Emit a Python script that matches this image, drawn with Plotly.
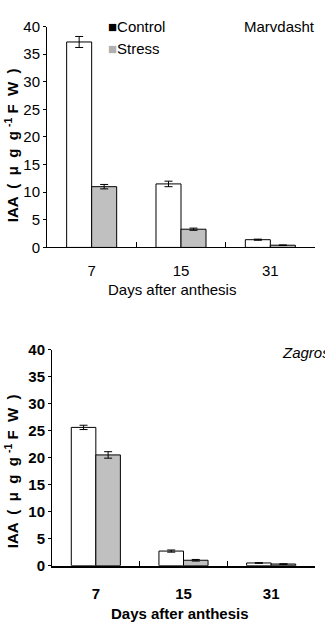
import plotly.graph_objects as go

days = ["7", "15", "31"]
# Marvdasht
marv_control = [37.2, 11.5, 1.4]
marv_control_err = [1.0, 0.5, 0.1]
marv_stress = [11.0, 3.3, 0.4]
marv_stress_err = [0.4, 0.2, 0.05]
# Zagros
zag_control = [25.6, 2.7, 0.5]
zag_control_err = [0.4, 0.2, 0.05]
zag_stress = [20.5, 1.0, 0.3]
zag_stress_err = [0.6, 0.15, 0.05]

y_ticks = [0, 5, 10, 15, 20, 25, 30, 35, 40]

W, H = 325, 634
FONT = "Liberation Sans, Arial, sans-serif"

def px_x(p):
    return p / W

def px_y(p):
    return 1 - p / H

fig = go.Figure()

def add_bars(xa, ya, ctrl, ctrl_err, strs, strs_err):
    fig.add_trace(go.Bar(
        x=days, y=ctrl, name="Control", xaxis=xa, yaxis=ya,
        marker=dict(color="white", line=dict(color="black", width=1)),
        error_y=dict(type="data", array=ctrl_err, color="black", thickness=1, width=4),
        showlegend=False))
    fig.add_trace(go.Bar(
        x=days, y=strs, name="Stress", xaxis=xa, yaxis=ya,
        marker=dict(color="#c0c0c0", line=dict(color="black", width=1)),
        error_y=dict(type="data", array=strs_err, color="black", thickness=1, width=4),
        showlegend=False))

add_bars("x", "y", marv_control, marv_control_err, marv_stress, marv_stress_err)
add_bars("x2", "y2", zag_control, zag_control_err, zag_stress, zag_stress_err)

def xaxis_cfg(dom, anchor, bold=False, standoff=10, lw=1):
    return dict(domain=dom, anchor=anchor, type="category",
                showline=True, linecolor="black", linewidth=lw,
                ticks="inside", tickson="boundaries", ticklen=5, tickcolor="black",
                showgrid=False, ticklabelstandoff=standoff,
                tickfont=dict(family=FONT, size=15, color="black",
                              weight="bold" if bold else "normal"))

def yaxis_cfg(dom, anchor, bold=False):
    return dict(domain=dom, anchor=anchor, range=[0, 40], tickvals=y_ticks,
                showline=True, linecolor="black", linewidth=1,
                ticks="outside", ticklen=3, tickcolor="black",
                showgrid=False, zeroline=False,
                tickfont=dict(family=FONT, size=15, color="black",
                              weight="bold" if bold else "normal"))

fig.update_layout(
    width=W, height=H,
    margin=dict(l=0, r=0, t=0, b=0),
    paper_bgcolor="white", plot_bgcolor="white",
    barmode="group", bargap=0.44, bargroupgap=0,
    xaxis=xaxis_cfg([px_x(47), px_x(315)], "y", standoff=10),
    yaxis=yaxis_cfg([px_y(245), px_y(18)], "x"),
    xaxis2=xaxis_cfg([px_x(52), px_x(315)], "y2", bold=True, standoff=13, lw=2),
    yaxis2=yaxis_cfg([px_y(572), px_y(350)], "x2", bold=True),
    font=dict(family=FONT, size=15, color="black"),
)

ann = []
def a(text, x, y, xanchor="center", yanchor="middle", size=15, angle=0, bold=False, italic=False):
    ann.append(dict(text=text, x=px_x(x), y=px_y(y), xref="paper", yref="paper",
                    xanchor=xanchor, yanchor=yanchor, showarrow=False, textangle=angle,
                    font=dict(family=FONT, size=size, color="black",
                              weight="bold" if bold else "normal",
                              style="italic" if italic else "normal")))

ytitle = "IAA  (  μ  g  g <sup>-1</sup> F  W  )"
a("Days after anthesis", 172, 288)
a(ytitle, 11, 140, angle=-90, size=15, bold=True)
a("Marvdasht", 317, 18, xanchor="right")
a("<span style='color:black'>■</span>Control", 106, 18, xanchor="left")
a("<span style='color:#b0b0b0'>■</span>Stress", 106, 41, xanchor="left")

a("Days after anthesis", 180, 621, bold=True)
a(ytitle, 11, 475, angle=-90, size=15, bold=True)
a("Zagros", 280, 353, xanchor="left", italic=True)

fig.update_layout(annotations=ann)
fig.write_html("out.html")
